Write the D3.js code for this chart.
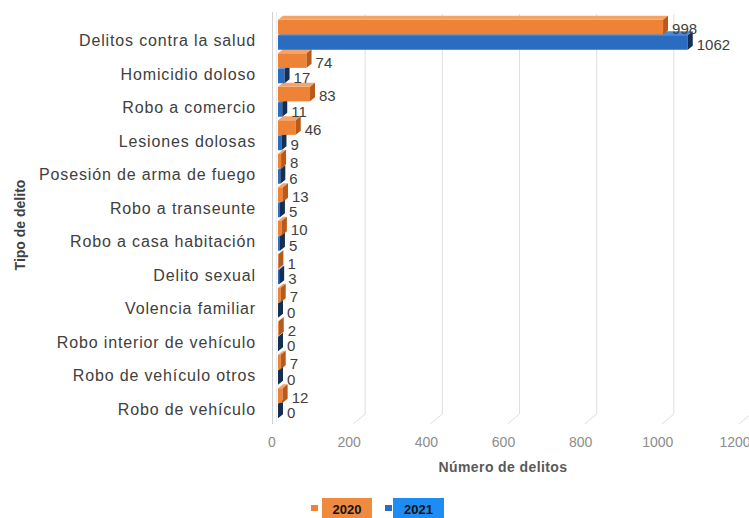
<!DOCTYPE html>
<html>
<head>
<meta charset="utf-8">
<script src="https://cdn.jsdelivr.net/npm/d3@7"></script>
<style>
  html, body { margin: 0; padding: 0; background: #fff; }
  svg { display: block; font-family: 'Liberation Sans', Arial, sans-serif; }
</style>
</head>
<body>
<div id="chart"></div>
<script>
const categories = [
  'Delitos contra la salud', 'Homicidio doloso', 'Robo a comercio', 'Lesiones dolosas',
  'Posesión de arma de fuego', 'Robo a transeunte', 'Robo a casa habitación', 'Delito sexual',
  'Volencia familiar', 'Robo interior de vehículo', 'Robo de vehículo otros', 'Robo de vehículo'
]
const values2020 = [998, 74, 83, 46, 8, 13, 10, 1, 7, 2, 7, 12]
const values2021 = [1062, 17, 11, 9, 6, 5, 5, 3, 0, 0, 0, 0]
const xTicks = [0, 200, 400, 600, 800, 1000, 1200]
const seriesNames = ['2020', '2021']

const width = 749
const height = 518
const depthX = 5
const depthY = 4

const palette = {
  '2020': { front: '#ee8236', top: '#f5a468', side: '#b95a1a', legend: '#f08a3e' },
  '2021': { front: '#2a6cbf', top: '#4d8ad6', side: '#142f52', legend: '#1e8cf5' },
}

const svg = d3.select('#chart').append('svg')
  .attr('width', width)
  .attr('height', height)

const x = d3.scaleLinear().domain([0, 1200]).range([278, 741])
const y = d3.scaleBand().domain(categories).range([24, 426])
const sub = d3.scaleBand().domain(seriesNames).range([-21, 9]).paddingInner(0.05)

// back wall grid + floor
const grid = svg.append('g')
xTicks.slice(1).forEach((t) => {
  grid.append('path')
    .attr('d', `M${x(t) + 10},14 L${x(t) + 10},414 L${x(t) - 2},424`)
    .attr('fill', 'none')
    .attr('stroke', '#dedede')
    .attr('stroke-width', 1)
})
grid.append('line')
  .attr('x1', 272.5).attr('x2', 272.5).attr('y1', 12).attr('y2', 424)
  .attr('stroke', '#d0d0d0')
grid.append('line')
  .attr('x1', 276.5).attr('x2', 276.5).attr('y1', 12).attr('y2', 422)
  .attr('stroke', '#ececec')

// tick labels
svg.append('g').selectAll('text')
  .data(xTicks)
  .join('text')
  .attr('x', (d) => x(d) - 6)
  .attr('y', 442)
  .attr('dy', '0.35em')
  .attr('text-anchor', 'middle')
  .attr('font-size', 14)
  .attr('fill', '#8c8c8c')
  .text((d) => d)

// category labels
svg.append('g').selectAll('text')
  .data(categories)
  .join('text')
  .attr('x', 256)
  .attr('y', (d) => y(d) + y.bandwidth() / 2)
  .attr('dy', '0.35em')
  .attr('text-anchor', 'end')
  .attr('font-size', 16)
  .attr('letter-spacing', 0.85)
  .attr('fill', '#404040')
  .text((d) => d)

// bars, drawn bottom category first so upper ones overlap
const rows = categories.map((c, i) => ({ cat: c, v2020: values2020[i], v2021: values2021[i] })).reverse()
const bars = svg.append('g')

function drawBar(g, cat, series, value) {
  const col = palette[series]
  const cy = y(cat) + y.bandwidth() / 2
  const y0 = cy + sub(series)
  const h = sub.bandwidth()
  const x0 = x(0)
  const x1 = x(value)
  if (x1 > x0) {
    g.append('rect')
      .attr('x', x0).attr('y', y0).attr('width', x1 - x0).attr('height', h)
      .attr('fill', col.front)
    g.append('path')
      .attr('d', `M${x0},${y0} L${x0 + depthX},${y0 - depthY} L${x1 + depthX},${y0 - depthY} L${x1},${y0} Z`)
      .attr('fill', col.top)
  }
  g.append('path')
    .attr('d', `M${x1},${y0} L${x1 + depthX},${y0 - depthY} L${x1 + depthX},${y0 + h - depthY} L${x1},${y0 + h} Z`)
    .attr('fill', col.side)
  g.append('text')
    .attr('x', x1 + 9)
    .attr('y', y0 + h / 2 + 2)
    .attr('dy', '0.35em')
    .attr('font-size', 15)
    .attr('fill', '#404040')
    .text(value)
}

rows.forEach((r) => {
  const g = bars.append('g')
  drawBar(g, r.cat, '2021', r.v2021)
  drawBar(g, r.cat, '2020', r.v2020)
})

// axis titles
svg.append('text')
  .attr('x', 503)
  .attr('y', 467)
  .attr('dy', '0.35em')
  .attr('text-anchor', 'middle')
  .attr('font-size', 14)
  .attr('letter-spacing', 0.4)
  .attr('font-weight', 'bold')
  .attr('fill', '#595959')
  .text('Número de delitos')

svg.append('text')
  .attr('transform', 'translate(20,225) rotate(-90)')
  .attr('dy', '0.35em')
  .attr('text-anchor', 'middle')
  .attr('font-size', 14)
  .attr('font-weight', 'bold')
  .attr('fill', '#404040')
  .text('Tipo de delito')

// legend
const legend = svg.append('g')
const legendItems = [
  { name: '2020', sx: 311, bx: 322, bw: 50 },
  { name: '2021', sx: 385, bx: 393, bw: 51 },
]
legendItems.forEach((d) => {
  legend.append('rect')
    .attr('x', d.sx).attr('y', 505).attr('width', 7).attr('height', 6)
    .attr('fill', palette[d.name].front)
  legend.append('rect')
    .attr('x', d.bx).attr('y', 498).attr('width', d.bw).attr('height', 20)
    .attr('fill', palette[d.name].legend)
  legend.append('text')
    .attr('x', d.bx + d.bw / 2)
    .attr('y', 509)
    .attr('dy', '0.35em')
    .attr('text-anchor', 'middle')
    .attr('font-size', 13)
    .attr('font-weight', 'bold')
    .attr('fill', '#111')
    .text(d.name)
})
</script>
</body>
</html>
